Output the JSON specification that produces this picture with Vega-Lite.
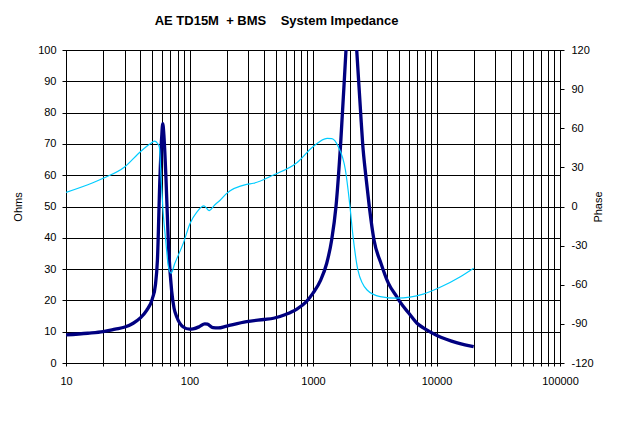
{
  "$schema": "https://vega.github.io/schema/vega-lite/v6.json",
  "width": 494,
  "height": 313,
  "autosize": "none",
  "padding": {"left": 66, "top": 50, "right": 74, "bottom": 85},
  "background": "#ffffff",
  "title": {
    "text": "AE TD15M \u00a0+ BMS \u00a0 \u00a0System Impedance",
    "anchor": "start",
    "dx": 142,
    "offset": 6,
    "baseline": "alphabetic",
    "font": "Liberation Sans",
    "fontSize": 13,
    "fontWeight": "bold",
    "color": "#000000"
  },
  "datasets": {
    "impedance": [
      {"freq": 10, "ohms": 9},
      {"freq": 15, "ohms": 9.5},
      {"freq": 20, "ohms": 10},
      {"freq": 25, "ohms": 10.8},
      {"freq": 30, "ohms": 11.5},
      {"freq": 35, "ohms": 12.7},
      {"freq": 40, "ohms": 14.4},
      {"freq": 45, "ohms": 16.8},
      {"freq": 50, "ohms": 20.5},
      {"freq": 53, "ohms": 25},
      {"freq": 55, "ohms": 33},
      {"freq": 57.6, "ohms": 59},
      {"freq": 59.5, "ohms": 72},
      {"freq": 60.7, "ohms": 76.5},
      {"freq": 62, "ohms": 73},
      {"freq": 64.5, "ohms": 59},
      {"freq": 67.5, "ohms": 38},
      {"freq": 71.7, "ohms": 23},
      {"freq": 75, "ohms": 17.5},
      {"freq": 78.9, "ohms": 14.7},
      {"freq": 89, "ohms": 11.5},
      {"freq": 100, "ohms": 10.8},
      {"freq": 107, "ohms": 10.9},
      {"freq": 120, "ohms": 11.6},
      {"freq": 133, "ohms": 12.5},
      {"freq": 140, "ohms": 12.4},
      {"freq": 155, "ohms": 11.3},
      {"freq": 171, "ohms": 11.2},
      {"freq": 200, "ohms": 11.8},
      {"freq": 290, "ohms": 13.2},
      {"freq": 400, "ohms": 13.9},
      {"freq": 479, "ohms": 14.3},
      {"freq": 600, "ohms": 15.5},
      {"freq": 740, "ohms": 17.2},
      {"freq": 880, "ohms": 19.5},
      {"freq": 1000, "ohms": 22.3},
      {"freq": 1154, "ohms": 26.5},
      {"freq": 1290, "ohms": 31.8},
      {"freq": 1416, "ohms": 39.3},
      {"freq": 1535, "ohms": 50},
      {"freq": 1675, "ohms": 70.2},
      {"freq": 1850, "ohms": 100},
      {"freq": 2030, "ohms": 128},
      {"freq": 2259, "ohms": 100},
      {"freq": 2432, "ohms": 79.8},
      {"freq": 2523, "ohms": 70.2},
      {"freq": 2683, "ohms": 59.5},
      {"freq": 2856, "ohms": 50},
      {"freq": 3118, "ohms": 39.3},
      {"freq": 3555, "ohms": 31.8},
      {"freq": 4074, "ohms": 25.5},
      {"freq": 4764, "ohms": 21.2},
      {"freq": 5050, "ohms": 19.6},
      {"freq": 6000, "ohms": 15.8},
      {"freq": 6950, "ohms": 12.7},
      {"freq": 8000, "ohms": 11},
      {"freq": 10000, "ohms": 8.9},
      {"freq": 12000, "ohms": 7.6},
      {"freq": 14500, "ohms": 6.5},
      {"freq": 17000, "ohms": 5.8},
      {"freq": 20000, "ohms": 5.2}
    ],
    "phase": [
      {"freq": 10, "phase": 10.8},
      {"freq": 16.5, "phase": 18.2},
      {"freq": 20, "phase": 21.6},
      {"freq": 30, "phase": 30.5},
      {"freq": 40, "phase": 42},
      {"freq": 50, "phase": 49.2},
      {"freq": 52, "phase": 50.2},
      {"freq": 55, "phase": 48.5},
      {"freq": 57, "phase": 45.6},
      {"freq": 58.8, "phase": 22.8},
      {"freq": 61, "phase": -2.6},
      {"freq": 64.5, "phase": -28.1},
      {"freq": 67.5, "phase": -46.1},
      {"freq": 71, "phase": -51.1},
      {"freq": 76, "phase": -43.7},
      {"freq": 89, "phase": -28.3},
      {"freq": 101, "phase": -13},
      {"freq": 115, "phase": -4.1},
      {"freq": 131, "phase": 0.5},
      {"freq": 144, "phase": -3.1},
      {"freq": 160, "phase": 1.2},
      {"freq": 176, "phase": 4.6},
      {"freq": 200, "phase": 10.1},
      {"freq": 290, "phase": 17},
      {"freq": 329, "phase": 17.8},
      {"freq": 479, "phase": 24.2},
      {"freq": 740, "phase": 33.6},
      {"freq": 1000, "phase": 45.8},
      {"freq": 1300, "phase": 52.3},
      {"freq": 1420, "phase": 52.1},
      {"freq": 1603, "phase": 45.8},
      {"freq": 1830, "phase": 28},
      {"freq": 1979, "phase": 2.6},
      {"freq": 2110, "phase": -23},
      {"freq": 2310, "phase": -48.7},
      {"freq": 2740, "phase": -64},
      {"freq": 3500, "phase": -69.1},
      {"freq": 4760, "phase": -70.3},
      {"freq": 7800, "phase": -67.2},
      {"freq": 10700, "phase": -61.9},
      {"freq": 15600, "phase": -53.8},
      {"freq": 20000, "phase": -47.3}
    ]
  },
  "encoding": {
    "x": {
      "field": "freq",
      "type": "quantitative",
      "scale": {"type": "log", "domain": [10, 100000], "nice": false},
      "axis": {
        "title": null,
        "values": [10, 20, 30, 40, 50, 60, 70, 80, 90, 100, 200, 300, 400, 500, 600, 700, 800, 900, 1000, 2000, 3000, 4000, 5000, 6000, 7000, 8000, 9000, 10000, 20000, 30000, 40000, 50000, 60000, 70000, 80000, 90000, 100000],
        "labelExpr": "indexof([10, 100, 1000, 10000, 100000], datum.value) >= 0 ? '' + datum.value : ''",
        "tickSize": 3,
        "labelPadding": 9
      }
    }
  },
  "layer": [
    {
      "data": {"name": "impedance"},
      "mark": {"type": "line", "color": "#000080", "strokeWidth": 3.3, "interpolate": "monotone", "clip": true},
      "encoding": {
        "y": {
          "field": "ohms",
          "type": "quantitative",
          "scale": {"domain": [0, 100], "nice": false},
          "axis": {
            "title": "Ohms",
            "values": [0, 10, 20, 30, 40, 50, 60, 70, 80, 90, 100],
            "tickSize": 4,
            "labelPadding": 6,
            "titlePadding": 14
          }
        }
      }
    },
    {
      "data": {"name": "phase"},
      "mark": {"type": "line", "color": "#00CCFF", "strokeWidth": 1.2, "interpolate": "monotone", "clip": true},
      "encoding": {
        "y": {
          "field": "phase",
          "type": "quantitative",
          "scale": {"domain": [-120, 120], "nice": false},
          "axis": {
            "title": "Phase",
            "orient": "right",
            "values": [-120, -90, -60, -30, 0, 30, 60, 90, 120],
            "labelExpr": "'' + datum.value",
            "grid": false,
            "tickSize": 4,
            "labelPadding": 7,
            "titlePadding": 10,
            "titleAngle": -90
          }
        }
      }
    }
  ],
  "resolve": {"scale": {"y": "independent"}, "axis": {"y": "independent"}},
  "config": {
    "view": {"stroke": "#000000", "strokeWidth": 1},
    "axis": {
      "grid": true,
      "gridColor": "#000000",
      "gridOpacity": 1,
      "gridWidth": 1,
      "domainColor": "#000000",
      "tickColor": "#000000",
      "labelColor": "#000000",
      "labelFont": "Liberation Sans",
      "labelFontSize": 11,
      "labelOverlap": false,
      "labelFlush": false,
      "titleColor": "#000000",
      "titleFont": "Liberation Sans",
      "titleFontSize": 11,
      "titleFontWeight": "normal"
    }
  }
}
